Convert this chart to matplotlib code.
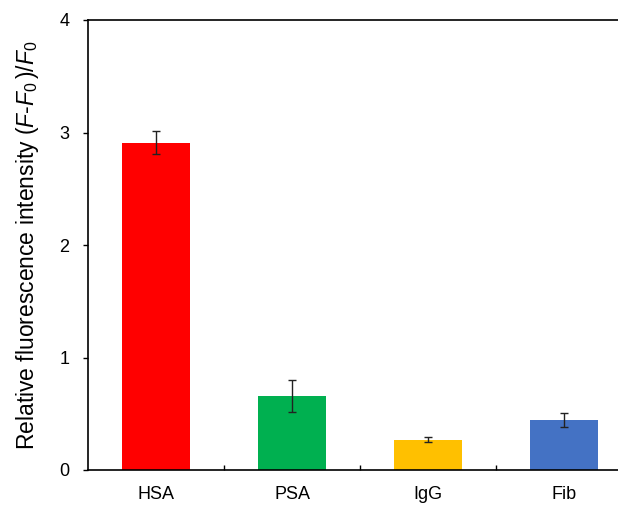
import numpy as np
import matplotlib
matplotlib.use("Agg")
import matplotlib.pyplot as plt

plt.rcParams['font.family'] = ['Liberation Sans', 'DejaVu Sans']
plt.rcParams['mathtext.fontset'] = 'custom'
plt.rcParams['mathtext.rm'] = 'Liberation Sans'
plt.rcParams['mathtext.it'] = 'Liberation Sans:italic'

# data
proteins = ["HSA", "PSA", "IgG", "Fib"]
intensity = [2.91, 0.66, 0.267, 0.445]
errors = [0.105, 0.14, 0.022, 0.06]
colors = ["#FF0000", "#00B050", "#FFC000", "#4472C4"]

fig = plt.figure(figsize=(6.18, 5.05), dpi=100)
# axes run past the right edge, as in the cropped original
ax = fig.add_axes([88 / 618, 35 / 505, 544 / 618, 450 / 505])

x = np.arange(len(proteins))
ax.bar(x, intensity, width=0.5, color=colors, zorder=2)
ax.errorbar(x, intensity, yerr=errors, fmt='none', ecolor='#222222',
            elinewidth=1.0, capsize=3.0, capthick=1.0, zorder=3)

ax.set_xlim(-0.5, len(proteins) - 0.5)
ax.set_ylim(0, 4)
ax.set_yticks([0, 1, 2, 3, 4])
ax.set_xticks(x)
ax.set_xticklabels(proteins)
ax.set_xticks(x[:-1] + 0.5, minor=True)
ax.tick_params(axis='x', which='major', length=0, pad=11.5, labelsize=13)
ax.tick_params(axis='x', which='minor', direction='in', length=3.5, width=1)
ax.tick_params(axis='y', direction='out', length=3.5, width=1, pad=10, labelsize=13)

for s in ax.spines.values():
    s.set_linewidth(1.2)

ax.set_ylabel(r"Relative fluorescence intensity $(F$-$F_0\,)/F_0$", fontsize=16.5, labelpad=13)

fig.savefig("out.png", dpi=100)
